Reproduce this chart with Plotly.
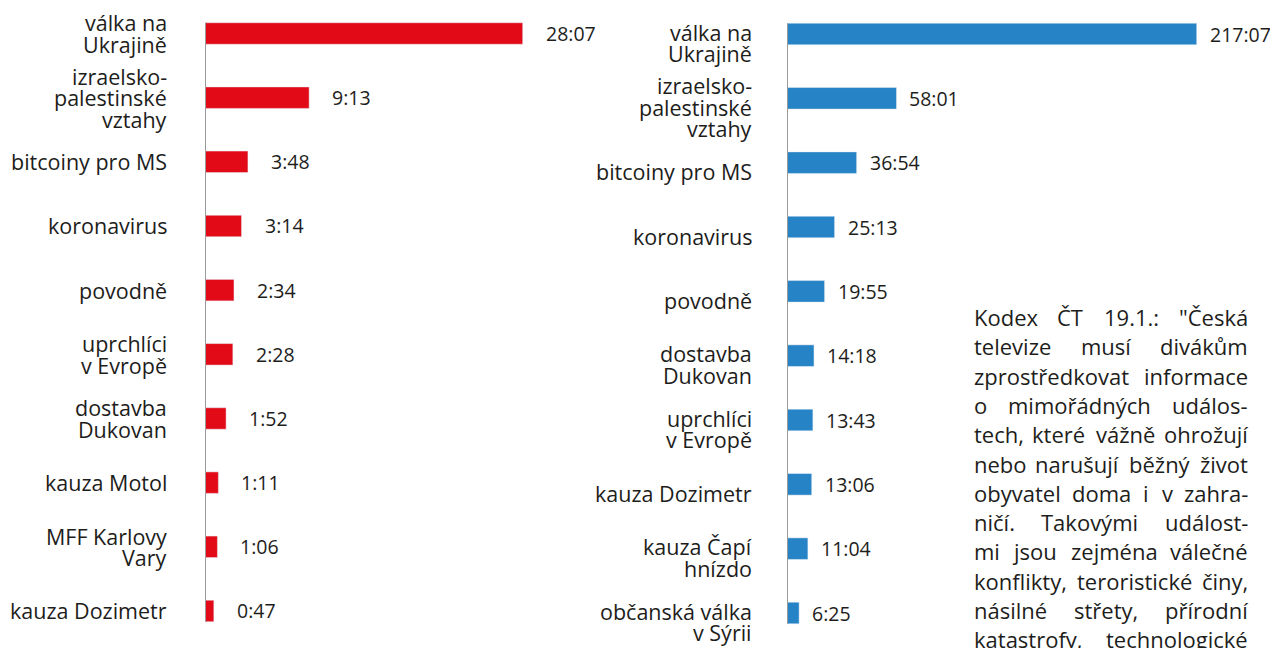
import unicodedata
import plotly.graph_objects as go

# ---------------- data ----------------
cats_left = ["válka na<br>Ukrajině", "izraelsko-<br>palestinské<br>vztahy", "bitcoiny pro MS",
             "koronavirus", "povodně", "uprchlíci<br>v Evropě", "dostavba<br>Dukovan",
             "kauza Motol", "MFF Karlovy<br>Vary", "kauza Dozimetr"]
times_left = ["28:07", "9:13", "3:48", "3:14", "2:34", "2:28", "1:52", "1:11", "1:06", "0:47"]

cats_right = ["válka na<br>Ukrajině", "izraelsko-<br>palestinské<br>vztahy", "bitcoiny pro MS",
              "koronavirus", "povodně", "dostavba<br>Dukovan", "uprchlíci<br>v Evropě",
              "kauza Dozimetr", "kauza Čapí<br>hnízdo", "občanská válka<br>v Sýrii"]
times_right = ["217:07", "58:01", "36:54", "25:13", "19:55", "14:18", "13:43", "13:06", "11:04", "6:25"]

text_lines = ['Kodex ČT 19.1.: "Česká', 'televize musí divákům', 'zprostředkovat informace',
              'o mimořádných událos-', 'tech, které vážně ohrožují', 'nebo narušují běžný život',
              'obyvatel doma i v zahra-', 'ničí. Takovými událost-', 'mi jsou zejména válečné',
              'konflikty, teroristické činy,', 'násilné střety, přírodní', 'katastrofy, technologické']


def to_minutes(s):
    m, sec = s.split(":")
    return int(m) + int(sec) / 60.0


mins_left = [to_minutes(t) for t in times_left]
mins_right = [to_minutes(t) for t in times_right]

# ---------------- style ----------------
W, H = 1270, 648
RED = "#E30A17"
BLUE = "#2683C6"
TXT = "#1d1d1b"
AXIS = "#9a9a9a"
FONT = "Open Sans"
LABEL_FS = 21.5
VALUE_FS = 19.5
BODY_FS = 22
BAR_W = 0.335

fig = go.Figure()

fig.add_trace(go.Bar(x=mins_left, y=cats_left, orientation="h", marker_color=RED,
                     width=BAR_W, xaxis="x", yaxis="y", hoverinfo="skip"))
fig.add_trace(go.Bar(x=mins_right, y=cats_right, orientation="h", marker_color=BLUE,
                     width=BAR_W, xaxis="x2", yaxis="y2", hoverinfo="skip"))

annotations = []
shapes = []


def add_panel(cats, mins, times, xref, yref, standoff, label_shift, val_shift):
    line_h = 21.5
    for c, m, t in zip(cats, mins, times):
        parts = c.split("<br>")
        n = len(parts)
        for i, p in enumerate(parts):
            annotations.append(dict(
                x=0, y=c, xref=xref, yref=yref, text=p, showarrow=False,
                xanchor="right", yanchor="middle", xshift=-standoff,
                yshift=((n - 1) / 2 - i) * line_h - label_shift,
                font=dict(family=FONT, size=LABEL_FS, color=TXT)))
        annotations.append(dict(
            x=m, y=c, xref=xref, yref=yref, text=t, showarrow=False,
            xanchor="left", yanchor="middle", xshift=val_shift,
            font=dict(family=FONT, size=VALUE_FS, color=TXT)))
    shapes.append(dict(type="line", xref=xref, yref=yref, x0=0, x1=0,
                       y0=-BAR_W / 2, y1=len(cats) - 1 + BAR_W / 2,
                       line=dict(color=AXIS, width=2), layer="above"))


add_panel(cats_left, mins_left, times_left, "x", "y", 36, 0, 21)
add_panel(cats_right, mins_right, times_right, "x2", "y2", 33, 9, 11)

# ---------------- justified text block ----------------
EM = {
    'a': .556, 'b': .613, 'c': .476, 'd': .613, 'e': .561, 'f': .339, 'g': .548, 'h': .614,
    'i': .253, 'j': .253, 'k': .525, 'l': .253, 'm': .930, 'n': .614, 'o': .604, 'p': .613,
    'q': .613, 'r': .408, 's': .477, 't': .353, 'u': .614, 'v': .501, 'w': .778, 'x': .524,
    'y': .502, 'z': .477, 'K': .59, 'T': .544, 'C': .633, 'M': .89, 'S': .536, 'D': .742,
    '.': .266, ',': .244, ':': .266, '"': .40, '-': .322, ' ': .26,
}


def est_width(word, size):
    w = 0.0
    for ch in word:
        base = unicodedata.normalize("NFD", ch)[0]
        if base.isdigit():
            w += .572
        else:
            w += EM.get(base, .6)
    return w * size


x_left_px, x_right_px = 972, 1250
y0_px, lh_px = 317, 29.3
for k, line in enumerate(text_lines):
    words = line.split()
    widths = [est_width(w, BODY_FS) for w in words]
    y_paper = 1 - (y0_px + k * lh_px) / H
    total = x_right_px - x_left_px
    gap = (total - sum(widths)) / (len(words) - 1) if len(words) > 1 else 0
    cursor = x_left_px
    for j, (w, wd) in enumerate(zip(words, widths)):
        if j == 0:
            xp, anchor = x_left_px, "left"
        elif j == len(words) - 1:
            xp, anchor = x_right_px, "right"
        else:
            xp, anchor = cursor + wd / 2, "center"
        cursor += wd + gap
        annotations.append(dict(
            x=xp / W, y=y_paper, xref="paper", yref="paper", text=w, showarrow=False,
            xanchor=anchor, yanchor="middle",
            font=dict(family=FONT, size=BODY_FS, color=TXT)))

# ---------------- layout ----------------
left_scale = (522.7 - 205) / to_minutes("28:07")
right_scale = (1196.7 - 787) / to_minutes("217:07")
L0, L1 = 205, 605
R0, R1 = 787, 1267

fig.update_layout(
    width=W, height=H,
    margin=dict(l=0, r=0, t=0, b=0),
    paper_bgcolor="white", plot_bgcolor="white",
    showlegend=False,
    font=dict(family=FONT, color=TXT),
    xaxis=dict(domain=[L0 / W, L1 / W], range=[0, (L1 - L0) / left_scale],
               visible=False, fixedrange=True),
    yaxis=dict(domain=[0, 1], type="category", categoryorder="array", categoryarray=cats_left,
               range=[9.577, -0.522], visible=False, fixedrange=True),
    xaxis2=dict(domain=[R0 / W, R1 / W], range=[0, (R1 - R0) / right_scale],
                visible=False, fixedrange=True),
    yaxis2=dict(domain=[0, 1], type="category", categoryorder="array", categoryarray=cats_right,
                range=[9.544, -0.5285], visible=False, fixedrange=True, anchor="x2"),
    annotations=annotations,
    shapes=shapes,
)

fig.write_html("out.html", config={"displayModeBar": False},
               post_script="document.body.style.margin='0';document.body.style.padding='0';"
                           "document.documentElement.style.overflow='hidden';")
